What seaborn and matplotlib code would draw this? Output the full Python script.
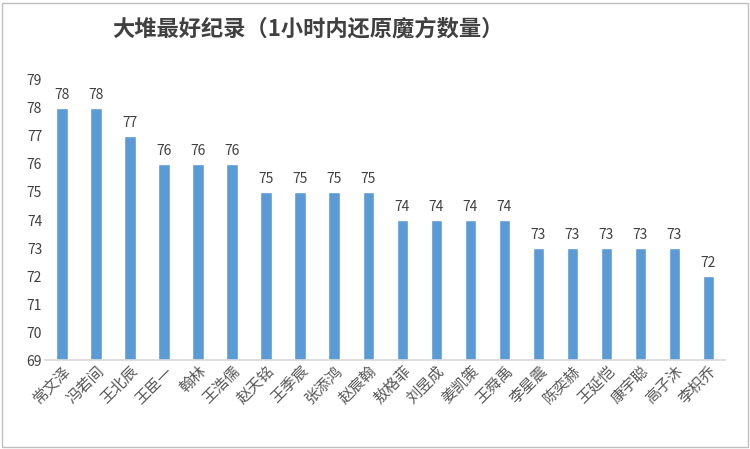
import matplotlib
matplotlib.use('Agg')
import matplotlib.pyplot as plt
import pandas as pd
import seaborn as sns
from matplotlib.patches import Rectangle

names = ['常文泽', '冯若间', '王北辰', '王臣一', '翰林', '王浩儒', '赵天铭', '王季宸', '张添鸿', '赵宸翰',
         '敖格菲', '刘昱成', '姜凯策', '王舜禹', '李星震', '陈奕赫', '王延恺', '康宇聪', '高子沐', '李枳乔']
scores = [78, 78, 77, 76, 76, 76, 75, 75, 75, 75, 74, 74, 74, 74, 73, 73, 73, 73, 73, 72]

sns.set_theme(style='white')
plt.rcParams['font.family'] = ['Noto Sans CJK SC', 'DejaVu Sans']

df = pd.DataFrame({'name': names, 'score': scores})
fig = plt.figure(figsize=(7.5, 4.49), dpi=100)
ax = fig.add_axes([0.06, 0.198, 0.907, 0.624])
sns.barplot(data=df, x='name', y='score', color='#5b9bd5', saturation=1, width=0.33, ax=ax)
ax.set_ylim(69, 79)
ax.set_yticks(range(69, 80))
ax.tick_params(axis='y', labelsize=10, colors='#404040', length=0, pad=2)
ax.tick_params(axis='x', labelsize=11, colors='#595959', length=0, pad=2)
for lab in ax.get_xticklabels():
    lab.set_rotation(45)
    lab.set_ha('right')
    lab.set_rotation_mode('anchor')
ax.set_xlabel('')
ax.set_ylabel('')
for s in ['top', 'right', 'left']:
    ax.spines[s].set_visible(False)
ax.spines['bottom'].set_color('#d9d9d9')
for i, v in enumerate(scores):
    ax.text(i, v + 0.2, str(v), ha='center', va='bottom', fontsize=10, color='#404040')
fig.text(0.41, 0.935, '大堆最好纪录（1小时内还原魔方数量）', ha='center', va='center',
         fontsize=16, fontweight='bold', color='#404040')
fig.patches.append(Rectangle((0.003, 0.004), 0.994, 0.99, transform=fig.transFigure,
                             fill=False, edgecolor='#bfbfbf', lw=1))
fig.savefig('out.png', dpi=100)
